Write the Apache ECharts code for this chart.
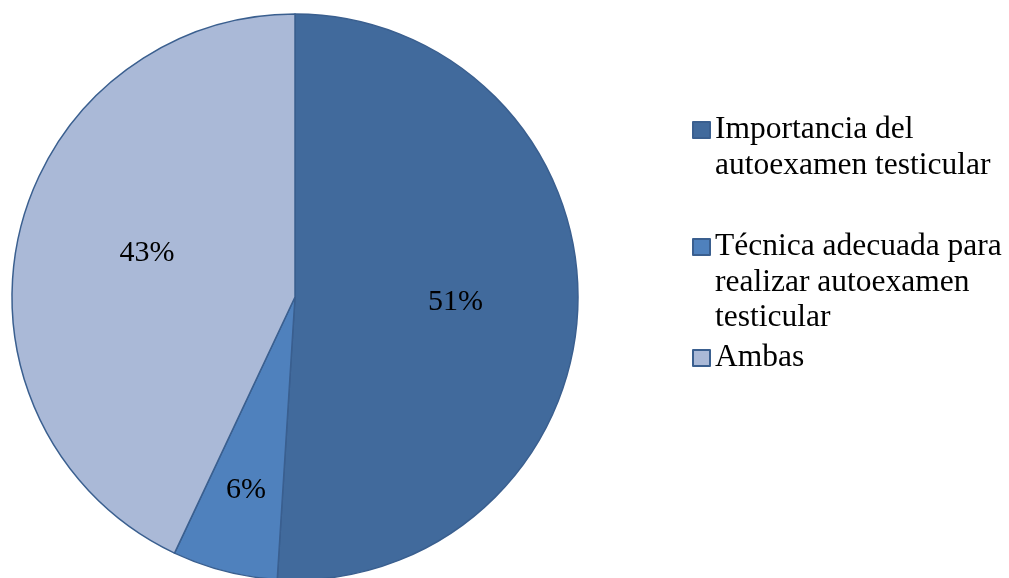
<!DOCTYPE html>
<html><head><meta charset="utf-8">
<script src="https://cdn.jsdelivr.net/npm/echarts@6/dist/echarts.min.js"></script>
<style>html,body{margin:0;padding:0;background:#fff}#c{width:1009px;height:578px}</style>
</head><body><div id="c"></div>
<script>
const categories = ['Importancia del autoexamen testicular', 'Técnica adecuada para realizar autoexamen testicular', 'Ambas'];
const legendLines = [['Importancia del', 'autoexamen testicular'], ['Técnica adecuada para', 'realizar autoexamen', 'testicular'], ['Ambas']];
const values = [51, 6, 43];
const colors = ['#416A9C', '#4F81BD', '#AAB9D7'];

const FONT = '"Liberation Serif", "Times New Roman", serif';
const LH = 35.5;
const firstLineY = [130, 247, 358];
const labelOffsets = [[16, 1], [-13, 53], [-7, -12]];

const chart = echarts.init(document.getElementById('c'));
const legends = categories.map((name, i) => {
  const n = legendLines[i].length;
  // leading blank lines keep the first text line level with the icon
  const txt = new Array(n - 1).fill('').concat(legendLines[i]).join('\n');
  return {
    data: [name],
    orient: 'vertical',
    left: 692,
    top: firstLineY[i] - (n - 0.5) * LH,
    padding: 0,
    itemWidth: 17,
    itemHeight: 16,
    itemGap: 0,
    selectedMode: false,
    icon: 'rect',
    formatter: () => txt,
    textStyle: { fontFamily: FONT, fontSize: 31.5, color: '#000', lineHeight: LH }
  };
});
chart.setOption({
  animation: false,
  legend: legends,
  series: [{
    type: 'pie',
    center: [295, 297],
    radius: 283,
    startAngle: 90,
    clockwise: true,
    data: categories.map((name, i) => ({
      name, value: values[i],
      itemStyle: { color: colors[i] },
      label: { offset: labelOffsets[i] }
    })),
    itemStyle: { borderColor: '#3A5F8F', borderWidth: 1.5 },
    label: {
      show: true, position: 'inner',
      formatter: p => p.value + '%',
      fontFamily: FONT, fontSize: 30, color: '#000'
    },
    labelLine: { show: false },
    emphasis: { disabled: true }
  }]
});
</script></body></html>
